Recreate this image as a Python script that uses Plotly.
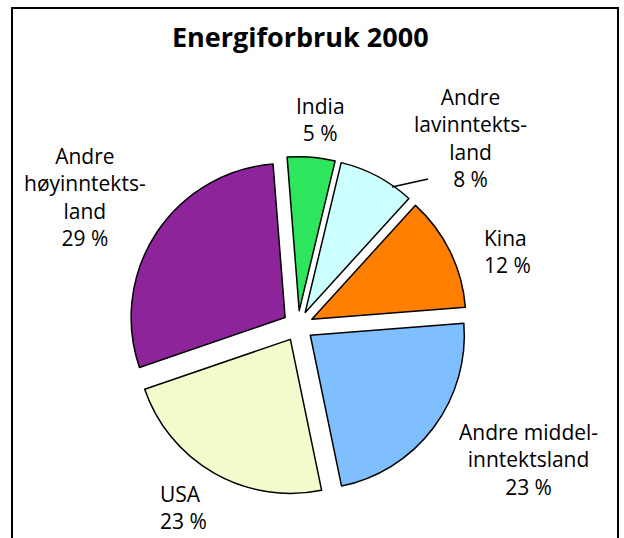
import plotly.graph_objects as go

W, H = 624, 538

labels = ["India", "Andre lavinntekts-land", "Kina", "Andre middelinntektsland", "USA", "Andre høyinntekts-land"]
values = [5, 8, 12, 23, 23, 29]
colors = ["#2EE65E", "#CCFFFF", "#FF8000", "#80BFFF", "#F5FACC", "#8E249A"]
title = "Energiforbruk 2000"

# label text, one list of lines per slice
label_lines = [
    ["India", "5 %"],
    ["Andre", "lavinntekts-", "land", "8 %"],
    ["Kina", "12 %"],
    ["Andre middel-", "inntektsland", "23 %"],
    ["USA", "23 %"],
    ["Andre", "høyinntekts-", "land", "29 %"],
]
# layout: label block anchor (pixels) and alignment
label_x = [320, 470, 483, 528, 159, 85]
label_y = [119, 138, 251, 459, 507, 197]
label_anchor = ["center", "center", "left", "center", "left", "center"]

pull = 0.1
cx, cy, r = 298, 326, 154
half = r * (1 + pull)

fig = go.Figure(go.Pie(
    labels=labels, values=values, sort=False, direction="clockwise",
    rotation=-4.5, pull=[pull] * len(values),
    marker=dict(colors=colors, line=dict(color="black", width=1.5)),
    textinfo="none", hoverinfo="label+percent", showlegend=False,
    domain=dict(x=[(cx - half) / W, (cx + half) / W],
                y=[1 - (cy + half) / H, 1 - (cy - half) / H]),
))

ann = []
for lines, px, py, anc in zip(label_lines, label_x, label_y, label_anchor):
    ann.append(dict(text="<br>".join(lines), x=px / W, y=1 - py / H, xref="paper", yref="paper",
                    xanchor=anc, yanchor="middle", align=anc, showarrow=False, borderpad=0,
                    font=dict(family="Open Sans", size=21, color="black")))
ann.append(dict(text="<b>" + title + "</b>", x=300 / W, y=1 - 37 / H, xref="paper", yref="paper",
                xanchor="center", yanchor="middle", showarrow=False, borderpad=0,
                font=dict(family="Open Sans", size=27, color="black")))

shapes = [
    dict(type="path", xref="paper", yref="paper",
         path=f"M {12/W} -0.1 L {12/W} {1-8/H} L {618/W} {1-8/H} L {618/W} -0.1",
         line=dict(color="black", width=2)),
    dict(type="line", xref="paper", yref="paper", x0=392 / W, y0=1 - 187 / H, x1=428 / W, y1=1 - 179 / H,
         line=dict(color="black", width=1.5)),
]

fig.update_layout(width=W, height=H, margin=dict(l=0, r=0, t=0, b=0),
                  paper_bgcolor="white", plot_bgcolor="white",
                  annotations=ann, shapes=shapes)
fig.write_html("out.html", config={"displayModeBar": False},
               post_script="document.body.style.margin='0';document.body.style.overflow='hidden';")
